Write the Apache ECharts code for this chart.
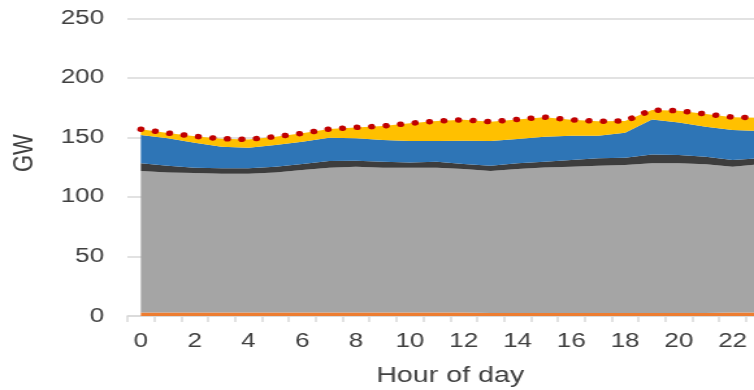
<!DOCTYPE html>
<html>
<head>
<meta charset="utf-8">
<script src="https://cdn.jsdelivr.net/npm/echarts@6/dist/echarts.min.js"></script>
<style>
  html, body { margin: 0; padding: 0; background: #fff; overflow: hidden; }
  #wrap { width: 754px; height: 390px; overflow: hidden; position: relative; }
  #chart { width: 620px; height: 390px; transform: scaleX(1.3); transform-origin: 0 0; }
</style>
</head>
<body>
<div id="wrap"><div id="chart"></div></div>
<script>
// ---- data (GW) ----
var hours = ['0','1','2','3','4','5','6','7','8','9','10','11','12','13','14','15','16','17','18','19','20','21','22','23'];
var yTicks = [0, 50, 100, 150, 200, 250];
var orange = [3,3,3,3,3,3,3,3,3,3,3,3,3,2.5,2.5,2.5,2.5,2.5,2.5,2.5,2.5,2.5,3,3];
var gray   = [118.7,117.6,117,116.5,116.5,117.6,119.6,121.5,122.4,121.5,121.5,121.5,120.4,119.2,120.9,122.3,122.9,123.7,124.3,125.7,125.7,124.9,122.4,124.4];
var dark   = [6.5,5.6,4.5,4.5,4.5,4.8,5,5.6,5,5.1,4.5,5.1,4.2,4.5,4.8,4.8,5.6,6.2,6.1,7.5,7,6.4,5.6,5];
var blue   = [23.8,23,21,18.2,17.3,18.2,18.8,19.6,18.8,18.2,17.9,17.3,19.6,20.7,20.4,21,20.4,19,21,29.4,27.4,25.1,25.2,23];
var yellow = [4.8,4.4,5.4,6.7,7,7,7,7.3,9.2,11.7,14.9,16.8,17.6,16.3,16.5,16.4,13.4,12.1,9.9,7.9,9.8,10.7,10.8,11.1];
var demand = [156.8,153.6,150.9,148.9,148.3,150.6,153.4,157,158.4,159.5,161.8,163.7,164.8,163.2,165.1,167,164.8,163.5,163.8,173,172.4,169.6,167,166.5];

var FONT = "'Liberation Sans', Arial, sans-serif";
var TXT = '#404040';

function areaSeries(name, data, color) {
  return {
    name: name, type: 'line', stack: 'total', data: data,
    symbol: 'none', smooth: false, clip: false,
    lineStyle: { width: 0 },
    areaStyle: { color: color, opacity: 1 },
    itemStyle: { color: color },
    emphasis: { disabled: true },
    animation: false
  };
}

var chart = echarts.init(document.getElementById('chart'), null, { renderer: 'canvas', width: 620, height: 390 });
chart.setOption({
  animation: false,
  backgroundColor: '#ffffff',
  grid: { left: 98, top: 18.3, width: 496.6, height: 297.7, containLabel: false, outerBoundsMode: 'none' },
  xAxis: {
    type: 'category', data: hours, boundaryGap: true,
    name: 'Hour of day', nameLocation: 'middle', nameGap: 49,
    nameTextStyle: { fontFamily: FONT, fontSize: 22, color: TXT },
    axisLine: { show: true, lineStyle: { color: '#d9d9d9', width: 1.5 } },
    axisTick: { show: true, interval: 0, length: 6, lineStyle: { color: '#d9d9d9', width: 1.5 } },
    axisLabel: { interval: 1, margin: 15, fontFamily: FONT, fontSize: 20, color: TXT },
    splitLine: { show: false }
  },
  yAxis: {
    type: 'value', min: yTicks[0], max: yTicks[yTicks.length - 1], interval: 50,
    name: 'GW', nameLocation: 'middle', nameGap: 68, nameRotate: 90,
    nameTextStyle: { fontFamily: FONT, fontSize: 22, color: TXT, padding: [0, 0, 0, 28] },
    axisLine: { show: false },
    axisTick: { show: false },
    axisLabel: { margin: 18, fontFamily: FONT, fontSize: 20, color: TXT },
    splitLine: { show: true, lineStyle: { color: '#d9d9d9', width: 1.5 } }
  },
  series: [
    areaSeries('Other', orange, '#ed7d31'),
    areaSeries('Base', gray, '#a5a5a5'),
    areaSeries('Dark', dark, '#3d3d3d'),
    areaSeries('Blue', blue, '#2e75b6'),
    areaSeries('Yellow', yellow, '#ffc000'),
    {
      name: 'Demand', type: 'line', data: demand, symbol: 'none', smooth: false, z: 5, clip: false,
      lineStyle: { color: '#c00000', width: 5.5, type: [0.1, 11.1], cap: 'round' },
      emphasis: { disabled: true },
      animation: false
    }
  ]
});
</script>
</body>
</html>
